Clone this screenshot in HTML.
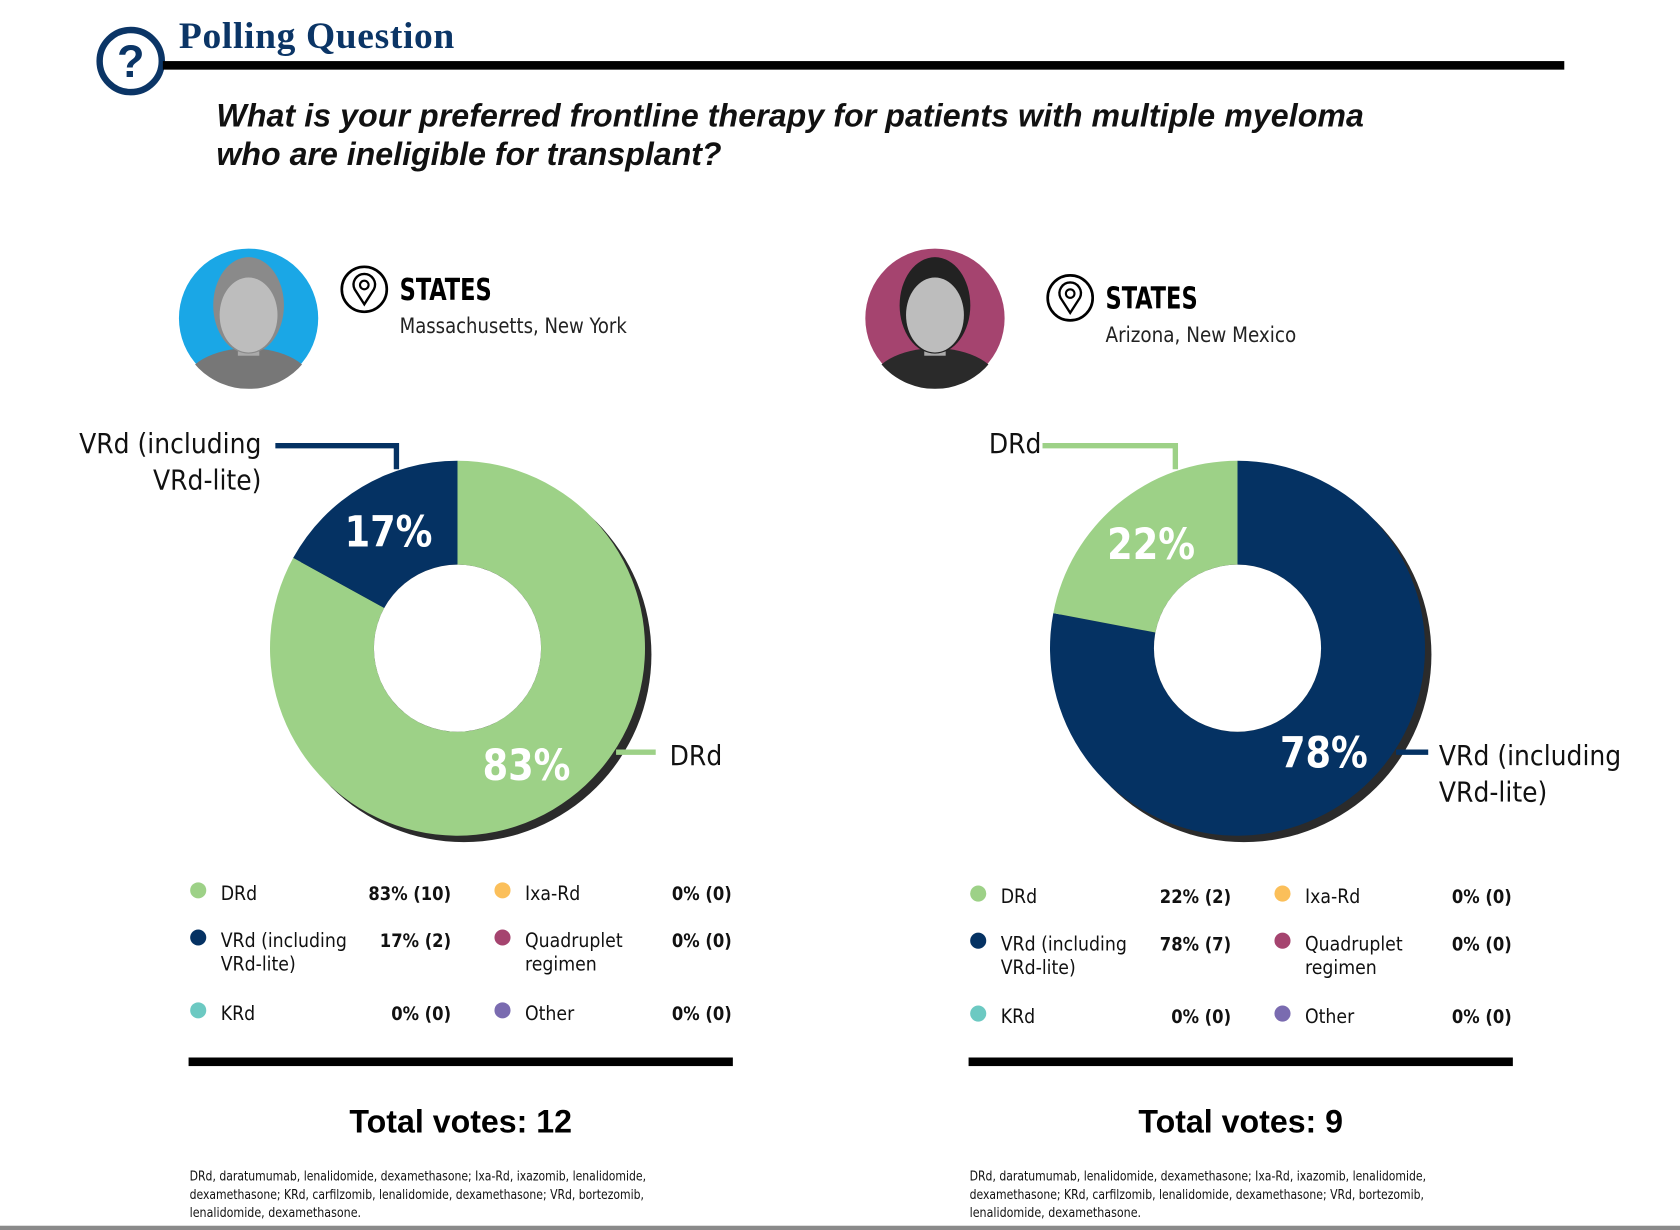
<!DOCTYPE html>
<html><head><meta charset="utf-8"><style>
html,body{margin:0;padding:0;background:#fff;}
svg{display:block;}
.n{font-family:"Liberation Sans Narrow","DejaVu Sans Condensed","Liberation Sans",sans-serif;}
</style></head><body>
<svg id="s" width="1680" height="1230" viewBox="0 0 1568 1148" preserveAspectRatio="none" xmlns="http://www.w3.org/2000/svg">
<g>
<circle cx="122" cy="57" r="29" fill="none" stroke="#0b3566" stroke-width="6"/>
<text x="122" y="72" text-anchor="middle" font-family="Liberation Sans,sans-serif" font-weight="bold" font-size="42" fill="#0b3566">?</text>
<text x="167" y="45" font-family="Liberation Serif,serif" font-weight="bold" font-size="35" fill="#0b3566" textLength="257">Polling Question</text>
<rect x="152" y="57" width="1308" height="8" fill="#000"/>
<text font-family="Liberation Sans,sans-serif" font-style="italic" font-weight="bold" font-size="30" fill="#111"><tspan x="202" y="118" textLength="1071">What is your preferred frontline therapy for patients with multiple myeloma</tspan><tspan x="202" y="154">who are ineligible for transplant?</tspan></text>
</g>
<g id="charts"></g>
<rect x="0" y="1144" width="1568" height="4" fill="#8a8a8a"/>
</svg>
<script>
const panelNames=["massachusetts-new-york","arizona-new-mexico"];
const states=["Massachusetts, New York","Arizona, New Mexico"];
const photoColors=["#1aa7e6","#a5446f"];
const categories=["DRd","VRd (including VRd-lite)","KRd","Ixa-Rd","Quadruplet regimen","Other"];
const catColors=["#9dd187","#053263","#6cc9c2","#fbbf5a","#a5446f","#7a6bb0"];
const votesA=[10,2,0,0,0,0];
const votesB=[2,7,0,0,0,0];
const pctA=[83,17,0,0,0,0];
const pctB=[22,78,0,0,0,0];
const sliceOrderA=[0,1];
const sliceOrderB=[1,0];
const totals=[12,9];

const NS="http://www.w3.org/2000/svg";
const root=document.getElementById('charts');
function el(t,a,p){const e=document.createElementNS(NS,t);for(const k in a)e.setAttribute(k,a[k]);(p||root).appendChild(e);return e;}
function pt(cx,cy,r,f){const a=f*2*Math.PI-Math.PI/2;return [cx+r*Math.cos(a),cy+r*Math.sin(a)];}
function arc(cx,cy,R,r,f0,f1){
  const [x0,y0]=pt(cx,cy,R,f0),[x1,y1]=pt(cx,cy,R,f1),[x2,y2]=pt(cx,cy,r,f1),[x3,y3]=pt(cx,cy,r,f0);
  const L=(f1-f0)>0.5?1:0;
  return `M${x0},${y0}A${R},${R} 0 ${L} 1 ${x1},${y1}L${x2},${y2}A${r},${r} 0 ${L} 0 ${x3},${y3}Z`;
}
const votesAll=[votesA,votesB],pctAll=[pctA,pctB],orders=[sliceOrderA,sliceOrderB];
[0,1].forEach(p=>{
  const ox=p*728;
  const g=el('g',{});
  
  
  const ph=el('g',{},g);
  
  
  const cx0=232+ox*0.88, cy0=297;
  el('defs',{},ph).innerHTML=`<clipPath id="cp${p}"><circle cx="${cx0}" cy="${cy0}" r="66"/><rect x="${cx0-40}" y="${cy0-75}" width="80" height="80"/></clipPath>`;
  const pg=el('g',{'clip-path':`url(#cp${p})`},ph);
  el('circle',{cx:cx0,cy:cy0,r:65,fill:photoColors[p]},pg);
  el('ellipse',{cx:cx0,cy:cy0+62,rx:60,ry:34,fill:p?'#2a2a2a':'#777'},pg);
  el('rect',{x:cx0-10,y:cy0+10,width:20,height:25,fill:'#aaa'},pg);
  el('ellipse',{cx:cx0,cy:cy0-12,rx:33,ry:45,fill:p?'#222':'#8a8a8a'},pg);
  el('ellipse',{cx:cx0,cy:cy0-3,rx:27,ry:35,fill:'#bdbdbd'},pg);
  const ix=340+ox*0.905, iy=p?278:270;
  const li=el('g',{},g);
  
  
  el('circle',{cx:ix,cy:iy,r:21,fill:'none',stroke:'#000','stroke-width':2.5},li);
  el('path',{d:`M${ix},${iy+14}L${ix-9},${iy}A10,10 0 1 1 ${ix+9},${iy}Z`,fill:'none',stroke:'#000','stroke-width':2.2},li);
  el('circle',{cx:ix,cy:iy-4,r:4,fill:'none',stroke:'#000','stroke-width':2},li);
  const t1=el('text',{x:ix+33,y:iy+10,class:'n','font-weight':'bold','font-size':28,fill:'#000',textLength:86,lengthAdjust:'spacingAndGlyphs'},g);
  t1.textContent='STATES';
  
  
  const t2=el('text',{x:ix+33,y:iy+41,class:'n','font-size':20,fill:'#222',textLength:p?178:212,lengthAdjust:'spacingAndGlyphs'},g);
  t2.textContent=states[p];
  
  
  const cx=427+ox, cy=605, R=175, r=78;
  const pc=pctAll[p], ord=orders[p];
  const tot=ord.reduce((s,i)=>s+pc[i],0);
  el('circle',{cx:cx+6,cy:cy+6,r:R,fill:'#2b2b2b'},g);
  let f=0;
  ord.forEach(i=>{
    const w=pc[i]/tot;
    const sl=el('path',{d:arc(cx,cy,R,r,f,f+w),fill:catColors[i]},g);
    
    
    f+=w;
  });
  el('circle',{cx:cx,cy:cy,r:r,fill:'#fff'},g);
  f=0;
  ord.forEach(i=>{
    const w=pc[i]/tot;
    const [lx,ly]=pt(cx,cy,(R+r)/2,f+w/2);
    const lt=el('text',{x:lx,y:ly+14,'text-anchor':'middle',class:'n','font-weight':'bold','font-size':40,fill:'#fff',textLength:82,lengthAdjust:'spacingAndGlyphs'},g);
    lt.textContent=pc[i]+'%';
    
    
    f+=w;
  });
  const smallIdx=ord[1], bigIdx=ord[0];
  const sc=catColors[smallIdx], bc=catColors[bigIdx];
  const c1=el('polyline',{points:`${cx-170+(p?-12:0)},416 ${cx-57+(p?-1:0)},416 ${cx-57+(p?-1:0)},438`,fill:'none',stroke:sc,'stroke-width':5},g);
  
  
  const c2=el('line',{x1:cx+148,y1:702,x2:cx+185+(p?-7:0),y2:702,stroke:bc,'stroke-width':5},g);
  
  
  const ct1=el('text',{class:'n','font-size':26,fill:'#111'},g);
  
  
  if(smallIdx===1){ct1.innerHTML=`<tspan x="${cx-183}" y="423" text-anchor="end">VRd (including</tspan><tspan x="${cx-183}" y="457" text-anchor="end">VRd-lite)</tspan>`;}
  else{ct1.innerHTML=`<tspan x="${cx-183}" y="423" text-anchor="end">DRd</tspan>`;}
  const ct2=el('text',{class:'n','font-size':26,fill:'#111'},g);
  
  
  const bx=cx+198-(p?10:0);
  if(bigIdx===0){ct2.innerHTML=`<tspan x="${bx}" y="714">DRd</tspan>`;}
  else{ct2.innerHTML=`<tspan x="${bx}" y="714">VRd (including</tspan><tspan x="${bx}" y="748">VRd-lite)</tspan>`;}
  const lgy=p?3:0;
  const rowY=[833,877,945];
  const vv=votesAll[p];
  categories.forEach((c,i)=>{
    const col=Math.floor(i/3),row=i%3;
    const dx=185+ox+col*284, y=rowY[row]+lgy;
    const lg=el('g',{},g);
    
    
    el('circle',{cx:dx,cy:y-2,r:7.5,fill:catColors[i]},lg);
    const tx=el('text',{class:'n','font-size':18,fill:'#111'},lg);
    const parts=c==="VRd (including VRd-lite)"?["VRd (including","VRd-lite)"]:c==="Quadruplet regimen"?["Quadruplet","regimen"]:[c];
    tx.innerHTML=parts.map((s,k)=>`<tspan x="${dx+21}" y="${y+7+k*22}">${s}</tspan>`).join('');
    const vt=el('text',{x:dx+(col?214:236),y:y+7,'text-anchor':'end',class:'n','font-weight':'bold','font-size':17,fill:'#111'},lg);
    vt.textContent=pc[i]+'% ('+vv[i]+')';
  });
  const rule=el('rect',{x:176+ox,y:987,width:508,height:8,fill:'#000'},g);
  
  
  const tv=el('text',{x:430+ox,y:1057,'text-anchor':'middle','font-family':'Liberation Sans,sans-serif','font-weight':'bold','font-size':30,fill:'#000'},g);
  tv.textContent='Total votes: '+totals[p];
  
  
  const fn=el('text',{class:'n','font-size':12,fill:'#111'},g);
  
  
  const fl=["DRd, daratumumab, lenalidomide, dexamethasone; Ixa-Rd, ixazomib, lenalidomide,","dexamethasone; KRd, carfilzomib, lenalidomide, dexamethasone; VRd, bortezomib,","lenalidomide, dexamethasone."];
  const fw=[426,424,160];
  fn.innerHTML=fl.map((s,k)=>`<tspan x="${177+ox}" y="${1102+k*17}" textLength="${fw[k]}" lengthAdjust="spacingAndGlyphs">${s}</tspan>`).join('');
});
</script>
</body></html>
